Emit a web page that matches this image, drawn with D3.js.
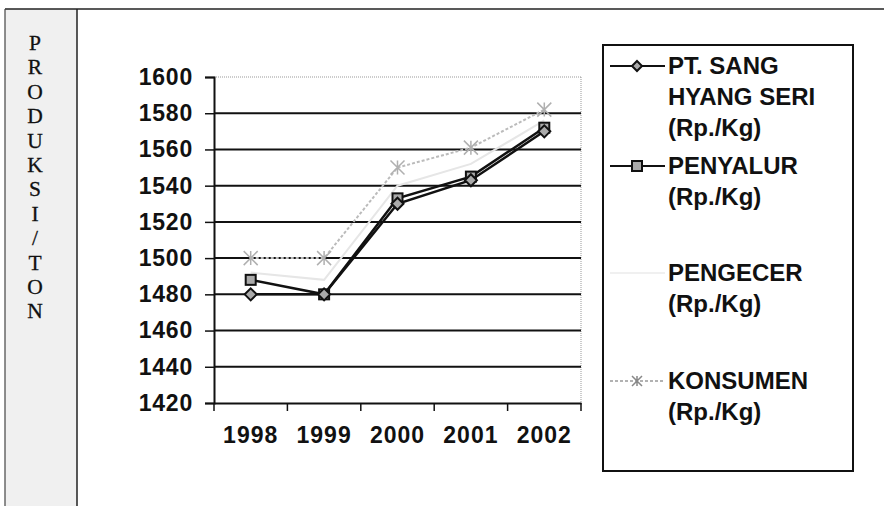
<!DOCTYPE html>
<html>
<head>
<meta charset="utf-8">
<script src="https://cdn.jsdelivr.net/npm/d3@7"></script>
<style>
  body { margin: 0; background: #fff; }
  svg { display: block; }
</style>
</head>
<body>
<svg id="chart"></svg>
<script>
// data
const years = ["1998", "1999", "2000", "2001", "2002"];
const sangHyangSeri = [1480, 1480, 1530, 1543, 1570];
const penyalur = [1488, 1480, 1533, 1545, 1572];
const pengecer = [1492, 1488, 1540, 1552, 1576];
const konsumen = [1500, 1500, 1550, 1561, 1582];
const yTicks = [1420, 1440, 1460, 1480, 1500, 1520, 1540, 1560, 1580, 1600];
const sideLabel = "PRODUKSI/TON";

const width = 884, height = 506;
const svg = d3.select("#chart").attr("width", width).attr("height", height);

// frame + left strip with vertical label
svg.append("rect").attr("x", 5).attr("y", 9).attr("width", 72).attr("height", height - 9)
  .attr("fill", "#f0f0f0");
svg.append("line").attr("x1", 5).attr("x2", width).attr("y1", 9).attr("y2", 9)
  .attr("stroke", "#222").attr("stroke-width", 1.5);
svg.append("line").attr("x1", 5).attr("x2", 5).attr("y1", 9).attr("y2", height)
  .attr("stroke", "#444").attr("stroke-width", 1.2);
svg.append("line").attr("x1", 77).attr("x2", 77).attr("y1", 9).attr("y2", height)
  .attr("stroke", "#222").attr("stroke-width", 1.5);
svg.append("g").selectAll("text")
  .data(sideLabel.split(""))
  .enter().append("text")
  .attr("x", 35)
  .attr("y", (d, i) => 50 + i * 24.4)
  .attr("text-anchor", "middle")
  .attr("font-family", "Liberation Serif, serif")
  .attr("font-size", 21.5)
  .attr("fill", "#111")
  .attr("stroke", "#111").attr("stroke-width", 0.3)
  .text(d => d);

// scales
const x = d3.scaleBand().domain(years).range([214, 581]);
const y = d3.scaleLinear().domain([1420, 1600]).range([403, 77]);

// plot border (dotted top/right) and gridlines
svg.append("line").attr("x1", 214).attr("x2", 581).attr("y1", y(1600)).attr("y2", y(1600))
  .attr("stroke", "#999").attr("stroke-dasharray", "1,1");
svg.append("line").attr("x1", 581).attr("x2", 581).attr("y1", y(1600)).attr("y2", y(1420))
  .attr("stroke", "#999").attr("stroke-dasharray", "1,1");
svg.append("g").selectAll("line")
  .data(yTicks.filter(t => t > 1420 && t < 1600))
  .enter().append("line")
  .attr("x1", 214).attr("x2", 581)
  .attr("y1", d => y(d)).attr("y2", d => y(d))
  .attr("stroke", "#111").attr("stroke-width", 2);

// axes
const yAxis = d3.axisLeft(y).tickValues(yTicks).tickFormat(d3.format("d")).tickSize(9).tickPadding(12);
const gy = svg.append("g").attr("transform", "translate(214,0)").call(yAxis);
gy.select(".domain").attr("stroke", "#111").attr("stroke-width", 2);
gy.selectAll(".tick line").attr("stroke", "#111").attr("stroke-width", 1.5).attr("x2", -9);
gy.selectAll(".tick text")
  .attr("font-family", "Liberation Sans, Arial, sans-serif")
  .attr("font-weight", "bold").attr("font-size", 23).attr("letter-spacing", 0.8).attr("fill", "#111");

const xAxis = d3.axisBottom(x).tickSize(0).tickPadding(24);
const gx = svg.append("g").attr("transform", "translate(0,403)").call(xAxis);
gx.select(".domain").attr("stroke", "#111").attr("stroke-width", 2);
gx.selectAll(".tick text")
  .attr("font-family", "Liberation Sans, Arial, sans-serif")
  .attr("font-weight", "bold").attr("font-size", 23).attr("letter-spacing", 1).attr("fill", "#111");
// tick marks between categories
svg.append("g").selectAll("line")
  .data(years.concat(["end"]))
  .enter().append("line")
  .attr("x1", (d, i) => i < years.length ? x(d) : x.range()[1])
  .attr("x2", (d, i) => i < years.length ? x(d) : x.range()[1])
  .attr("y1", 403).attr("y2", 411)
  .attr("stroke", "#111").attr("stroke-width", 1.5);

// series
const line = d3.line().x((d, i) => x(years[i]) + x.bandwidth() / 2).y(d => y(d));
const cx = i => x(years[i]) + x.bandwidth() / 2;

// marker helpers
function diamond(g, px, py, s) {
  g.append("path").attr("d", `M${px},${py - s}L${px + s},${py}L${px},${py + s}L${px - s},${py}Z`)
    .attr("fill", "#aaa").attr("stroke", "#111").attr("stroke-width", 2);
}
function square(g, px, py, s) {
  g.append("rect").attr("x", px - s).attr("y", py - s).attr("width", 2 * s).attr("height", 2 * s)
    .attr("fill", "#aaa").attr("stroke", "#111").attr("stroke-width", 2);
}
function star(g, px, py, s, col) {
  g.append("path")
    .attr("d", `M${px - s},${py - s}L${px + s},${py + s}M${px - s},${py + s}L${px + s},${py - s}M${px},${py - s}L${px},${py + s}`)
    .attr("stroke", col).attr("stroke-width", 1.5).attr("fill", "none");
}

const plot = svg.append("g");
plot.append("path").datum(konsumen).attr("d", line)
  .attr("fill", "none").attr("stroke", "#bbb").attr("stroke-width", 2).attr("stroke-dasharray", "3,2");
konsumen.forEach((v, i) => star(plot, cx(i), y(v), 7, "#b0b0b0"));

plot.append("path").datum(pengecer).attr("d", line)
  .attr("fill", "none").attr("stroke", "#e6e6e6").attr("stroke-width", 2);

plot.append("path").datum(penyalur).attr("d", line)
  .attr("fill", "none").attr("stroke", "#111").attr("stroke-width", 2.5);
penyalur.forEach((v, i) => square(plot, cx(i), y(v), 5));

plot.append("path").datum(sangHyangSeri).attr("d", line)
  .attr("fill", "none").attr("stroke", "#111").attr("stroke-width", 2.5);
sangHyangSeri.forEach((v, i) => diamond(plot, cx(i), y(v), 6));

// legend
const legendEntries = [
  { lines: ["PT. SANG", "HYANG SERI", "(Rp./Kg)"], y: 66, kind: "diamond" },
  { lines: ["PENYALUR", "(Rp./Kg)"], y: 166, kind: "square" },
  { lines: ["PENGECER", "(Rp./Kg)"], y: 273, kind: "plain" },
  { lines: ["KONSUMEN", "(Rp./Kg)"], y: 381, kind: "star" }
];
svg.append("rect").attr("x", 603).attr("y", 45).attr("width", 250).attr("height", 426)
  .attr("fill", "#fff").attr("stroke", "#111").attr("stroke-width", 2);
const lg = svg.append("g");
legendEntries.forEach(e => {
  const mx = 637;
  if (e.kind === "diamond" || e.kind === "square") {
    lg.append("line").attr("x1", 610).attr("x2", 665).attr("y1", e.y).attr("y2", e.y)
      .attr("stroke", "#111").attr("stroke-width", 2);
    if (e.kind === "diamond") diamond(lg, mx, e.y, 5); else square(lg, mx, e.y, 5);
  } else if (e.kind === "star") {
    lg.append("line").attr("x1", 610).attr("x2", 665).attr("y1", e.y).attr("y2", e.y)
      .attr("stroke", "#999").attr("stroke-width", 1.5).attr("stroke-dasharray", "3,2");
    star(lg, mx, e.y, 5, "#888");
  } else {
    lg.append("line").attr("x1", 610).attr("x2", 665).attr("y1", e.y).attr("y2", e.y)
      .attr("stroke", "#f0f0f0").attr("stroke-width", 2);
  }
  e.lines.forEach((t, j) => {
    lg.append("text").attr("x", 668).attr("y", e.y + 8 + j * 31)
      .attr("font-family", "Liberation Sans, Arial, sans-serif")
      .attr("font-weight", "bold").attr("font-size", 24).attr("fill", "#111")
      .text(t);
  });
});
</script>
</body>
</html>
